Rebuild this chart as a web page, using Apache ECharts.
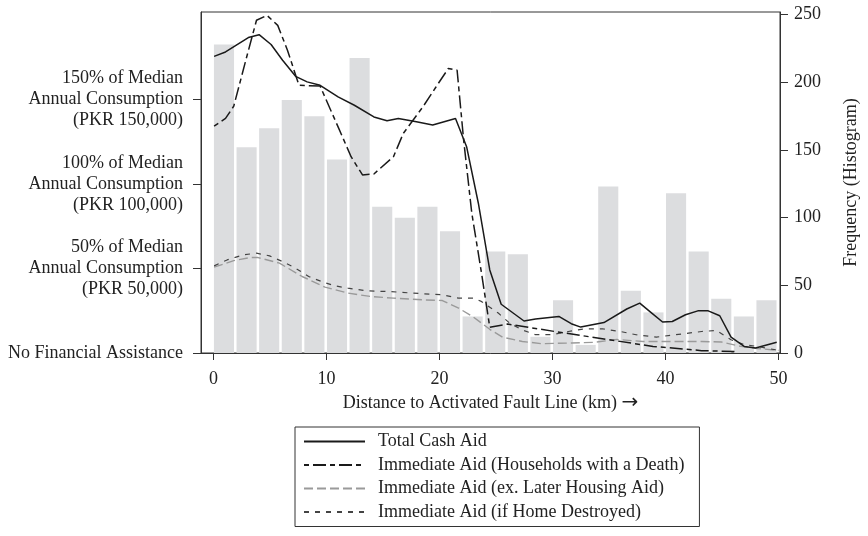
<!DOCTYPE html>
<html>
<head>
<meta charset="utf-8">
<script src="https://cdn.jsdelivr.net/npm/echarts@6/dist/echarts.min.js"></script>
<style>
html,body{margin:0;padding:0;background:#fff;}
#chart{width:868px;height:536px;}
</style>
</head>
<body>
<div id="chart"></div>
<script>
// ---- Data (distance in km; aid in thousands of PKR; frequency counts) ----
var histBinStarts = [0,2,4,6,8,10,12,14,16,18,20,22,24,26,28,30,32,34,36,38,40,42,44,46,48];
var histBinWidth = 2;
var histCounts = [228,152,166,187,175,143,218,108,100,108,90,27,75,73,12,39,6,123,46,30,118,75,40,27,39];

var totalCashAid = [
  [0.06,175.3],[1.07,177.9],[3.09,186.4],[4.04,188.1],[5.1,182.3],[6.12,173.0],[7.27,163.5],
  [8.29,160.2],[9.44,158.2],[11.03,151.3],[12.47,146.4],[14.2,139.5],[15.36,137.2],[16.36,138.6],
  [17.96,136.6],[19.4,134.7],[21.42,138.6],[22.4,121.9],[23.44,88.5],[24.45,49.1],[25.46,28.8],
  [27.48,18.9],[28.5,20.1],[30.56,21.6],[31.66,17.3],[32.5,15.3],[34.55,18.0],[36.57,26.0],
  [37.72,29.5],[38.73,23.9],[39.74,18.3],[40.6,18.6],[41.77,22.6],[42.86,24.9],[43.78,24.9],
  [44.8,22.0],[45.8,9.4],[46.96,3.9],[47.97,2.9],[49.84,6.3]
];
var aidDeath = [
  [0.06,134.1],[1.07,138.6],[1.8,145.9],[2.94,174.9],[3.81,196.6],[4.74,199.5],[5.69,193.6],
  [6.55,178.9],[7.57,158.2],[9.44,157.7],[11.03,133.6],[12.18,116.0],[13.19,105.2],[14.2,105.8],
  [15.93,116.0],[16.8,129.8],[18.53,145.4],[19.69,157.2],[20.78,168.1],[21.56,167.1],[22.14,125.8],
  [22.86,82.6],[23.72,47.2],[24.45,15.2],[26.03,17.1],[30.2,12.7],[34.55,8.3],[38.9,3.9],
  [43.2,1.4],[46.1,0.9]
];
var aidExHousing = [
  [0.06,50.7],[1.8,54.6],[3.24,56.4],[3.96,56.4],[5.84,53.1],[7.85,45.2],[9.87,38.9],[11.9,35.4],
  [13.9,33.4],[15.93,32.4],[18.53,31.4],[20.26,31.0],[21.7,26.5],[23.0,21.2],[24.45,14.0],
  [25.6,9.3],[27.33,6.8],[29.06,5.5],[31.66,5.9],[33.68,6.3],[35.7,8.0],[38.0,6.8],[40.3,6.8],
  [43.2,6.8],[44.94,6.5],[46.67,3.9],[48.1,2.7],[50.0,1.5]
];
var aidHomeDestroyed = [
  [0.06,51.5],[1.21,55.0],[2.66,58.0],[3.81,59.0],[4.97,57.4],[6.12,54.0],[7.27,50.1],[8.43,45.2],
  [9.58,42.2],[10.74,39.7],[11.9,38.3],[13.63,36.7],[15.65,36.3],[18.53,35.0],[20.26,34.4],
  [21.7,32.4],[23.0,32.4],[23.7,30.5],[25.2,23.6],[26.2,17.7],[27.3,13.7],[28.5,10.8],[29.9,10.8],
  [31.4,12.7],[32.8,14.2],[34.5,14.2],[36.0,12.7],[37.4,10.8],[39.2,9.4],[40.9,10.8],[43.2,12.7],
  [44.5,13.3],[45.8,7.8],[47.0,4.9],[48.1,3.9],[50.0,1.5]
];

var seriesNames = [
  'Total Cash Aid',
  'Immediate Aid (Households with a Death)',
  'Immediate Aid (ex. Later Housing Aid)',
  'Immediate Aid (if Home Destroyed)'
];

var xTicks = [0,10,20,30,40,50];
var leftTickValues = [0,50,100,150];
var leftTickLabels = [
  'No Financial Assistance',
  '50% of Median\nAnnual Consumption\n(PKR 50,000)',
  '100% of Median\nAnnual Consumption\n(PKR 100,000)',
  '150% of Median\nAnnual Consumption\n(PKR 150,000)'
];
var rightTicks = [0,50,100,150,200,250];
var xAxisTitleText = 'Distance to Activated Fault Line (km) ';
var xAxisTitleArrow = '\u2192';
var rightAxisTitle = 'Frequency (Histogram)';

// ---- Chart ----
var FONT = '"Liberation Serif", "Times New Roman", serif';
var TXT = '#222';
var AX = '#333';

var histData = histBinStarts.map(function (s, i) { return [s, s + histBinWidth, histCounts[i]]; });

var chart = echarts.init(document.getElementById('chart'), null, {renderer: 'canvas'});
chart.setOption({
  animation: false,
  backgroundColor: '#fff',
  textStyle: {fontFamily: FONT, color: TXT},
  grid: {
    left: 201, right: 75, top: 12, bottom: 183,
    show: true, borderColor: AX, borderWidth: 1, backgroundColor: 'transparent'
  },
  legend: {
    orient: 'vertical',
    left: 295, top: 427,
    padding: [4, 15, 4, 8],
    itemGap: 2.5,
    itemWidth: 61, itemHeight: 21,
    borderColor: AX, borderWidth: 1,
    data: seriesNames,
    itemStyle: {opacity: 0},
    textStyle: {fontFamily: FONT, fontSize: 18, color: TXT, lineHeight: 21, padding: [0, 0, 0, 8]}
  },
  xAxis: {
    type: 'value', min: -1.1, max: 50.13,
    name: '{t|' + xAxisTitleText + '}{a|' + xAxisTitleArrow + '}',
    nameLocation: 'middle', nameGap: 39,
    nameTextStyle: {
      fontFamily: FONT, fontSize: 18, color: TXT,
      rich: {
        t: {fontFamily: FONT, fontSize: 18, color: TXT, lineHeight: 22},
        a: {fontFamily: '"DejaVu Sans", sans-serif', fontSize: 20, color: TXT, lineHeight: 22}
      }
    },
    axisLine: {show: true, onZero: false, lineStyle: {color: AX, width: 1}},
    axisTick: {show: true, length: 7, lineStyle: {color: AX}, customValues: xTicks},
    axisLabel: {fontFamily: FONT, fontSize: 18, color: TXT, margin: 17, customValues: xTicks},
    splitLine: {show: false}
  },
  yAxis: [
    {
      type: 'value', position: 'left', min: 0, max: 201.5,
      axisLine: {show: true, onZero: false, lineStyle: {color: AX, width: 1}},
      axisTick: {show: true, length: 8, lineStyle: {color: AX}, customValues: leftTickValues},
      axisLabel: {
        fontFamily: FONT, fontSize: 18, color: TXT, lineHeight: 21, margin: 18, align: 'right',
        customValues: leftTickValues,
        formatter: function (v) {
          var i = leftTickValues.indexOf(v);
          return i >= 0 ? leftTickLabels[i] : '';
        }
      },
      splitLine: {show: false}
    },
    {
      type: 'value', position: 'right', min: 0, max: 252,
      name: rightAxisTitle, nameLocation: 'middle', nameRotate: 90, nameGap: 62,
      nameTextStyle: {fontFamily: FONT, fontSize: 18, color: TXT},
      axisLine: {show: true, onZero: false, lineStyle: {color: AX, width: 1}},
      axisTick: {show: true, length: 8, lineStyle: {color: AX}, customValues: rightTicks},
      axisLabel: {fontFamily: FONT, fontSize: 18, color: TXT, margin: 14, customValues: rightTicks},
      splitLine: {show: false}
    }
  ],
  series: [
    {
      type: 'custom', name: 'Histogram', yAxisIndex: 1, z: 1,
      data: histData,
      encode: {x: [0, 1], y: 2},
      renderItem: function (params, api) {
        var p0 = api.coord([api.value(0), api.value(2)]);
        var p1 = api.coord([api.value(1), 0]);
        return {
          type: 'rect',
          shape: {x: p0[0] + 0.5, y: p0[1], width: p1[0] - p0[0] - 2.5, height: p1[1] - p0[1]},
          style: {fill: '#dcdddf'}
        };
      }
    },
    {
      type: 'line', name: seriesNames[0], yAxisIndex: 0, z: 5,
      data: totalCashAid, symbol: 'none', smooth: false,
      lineStyle: {color: '#1a1a1a', width: 1.5, type: 'solid'},
      itemStyle: {color: '#1a1a1a'}
    },
    {
      type: 'line', name: seriesNames[1], yAxisIndex: 0, z: 5,
      data: aidDeath, symbol: 'none', smooth: false,
      lineStyle: {color: '#1a1a1a', width: 1.5, type: [5, 4, 13, 4]},
      itemStyle: {color: '#1a1a1a'}
    },
    {
      type: 'line', name: seriesNames[2], yAxisIndex: 0, z: 4,
      data: aidExHousing, symbol: 'none', smooth: false,
      lineStyle: {color: '#9a9a9a', width: 1.4, type: [9, 4]},
      itemStyle: {color: '#9a9a9a'}
    },
    {
      type: 'line', name: seriesNames[3], yAxisIndex: 0, z: 4,
      data: aidHomeDestroyed, symbol: 'none', smooth: false,
      lineStyle: {color: '#444', width: 1.2, type: [5, 6]},
      itemStyle: {color: '#444'}
    }
  ]
});
</script>
</body>
</html>
